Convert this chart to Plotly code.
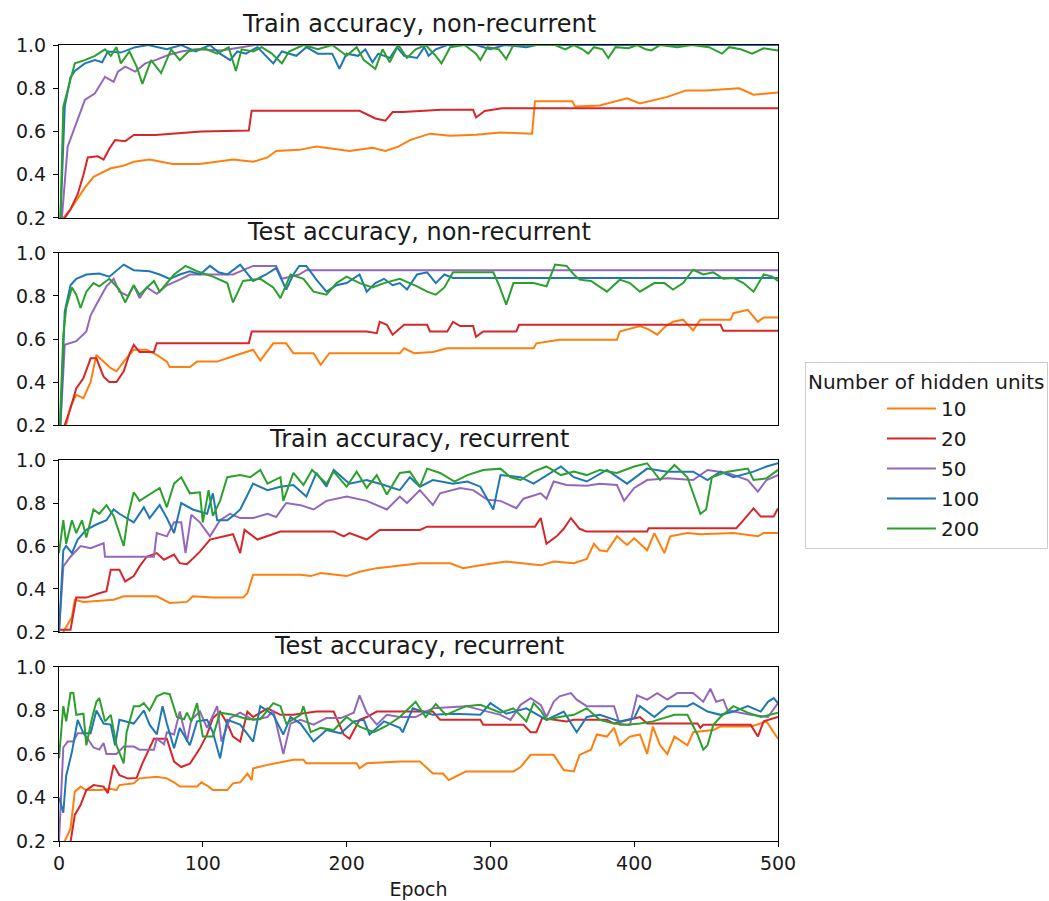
import plotly.graph_objects as go

# ---------------- data (epoch, accuracy) ----------------
units = ["10", "20", "50", "100", "200"]
colors = ["#ff7f0e", "#d62728", "#9467bd", "#1f77b4", "#2ca02c"]
titles = ["Train accuracy, non-recurrent", "Test accuracy, non-recurrent",
          "Train accuracy, recurrent", "Test accuracy, recurrent"]
y_ticks = [0.2, 0.4, 0.6, 0.8, 1.0]
x_ticks = [0, 100, 200, 300, 400, 500]

# Panel 1: train accuracy, non-recurrent
trn_10_ep = [0, 3, 8, 12, 18, 24, 30, 36, 44, 52, 63, 79, 98, 110, 121, 135, 145, 151, 167, 179, 190, 202, 218, 227, 236, 244, 251, 258, 272, 290, 307, 329, 331, 357, 359, 376, 395, 404, 423, 436, 450, 473, 483, 500]
trn_10_acc = [0.1, 0.2, 0.24, 0.28, 0.34, 0.39, 0.41, 0.43, 0.44, 0.46, 0.47, 0.45, 0.45, 0.46, 0.47, 0.46, 0.48, 0.51, 0.515, 0.53, 0.52, 0.51, 0.525, 0.51, 0.53, 0.56, 0.575, 0.59, 0.58, 0.585, 0.595, 0.59, 0.74, 0.74, 0.715, 0.72, 0.753, 0.73, 0.76, 0.79, 0.79, 0.80, 0.77, 0.78]
trn_20_ep = [0, 4, 8, 13, 17, 20, 27, 31, 35, 39, 46, 52, 67, 80, 99, 132, 134, 209, 220, 227, 232, 239, 266, 288, 290, 296, 308, 500]
trn_20_acc = [0.12, 0.2, 0.24, 0.31, 0.40, 0.48, 0.485, 0.47, 0.52, 0.56, 0.555, 0.584, 0.584, 0.59, 0.60, 0.605, 0.696, 0.696, 0.66, 0.65, 0.69, 0.69, 0.70, 0.70, 0.665, 0.695, 0.707, 0.707]
trn_50_ep = [0, 2, 6, 11, 18, 25, 32, 38, 41, 46, 53, 60, 67, 76, 85, 95, 113, 127, 136, 500]
trn_50_acc = [0.1, 0.2, 0.53, 0.62, 0.746, 0.777, 0.853, 0.83, 0.877, 0.90, 0.877, 0.915, 0.93, 0.954, 0.97, 0.98, 0.975, 0.99, 1.0, 1.0]
trn_100_ep = [0, 1, 4, 8, 11, 18, 25, 30, 34, 43, 53, 62, 75, 85, 95, 105, 112, 119, 124, 130, 138, 149, 155, 165, 172, 180, 190, 195, 200, 208, 213, 218, 222, 230, 235, 240, 249, 254, 257, 262, 270, 290, 300, 310, 325, 332, 500]
trn_100_acc = [0.1, 0.2, 0.715, 0.85, 0.88, 0.915, 0.93, 0.92, 0.97, 0.965, 0.99, 1.0, 0.98, 1.0, 0.97, 1.0, 0.96, 0.93, 0.97, 0.96, 0.99, 0.915, 0.97, 0.95, 0.99, 0.96, 0.96, 0.89, 0.96, 0.95, 0.98, 0.92, 0.96, 0.94, 0.99, 0.95, 0.94, 0.99, 0.95, 0.98, 1.0, 1.0, 0.98, 1.0, 0.99, 1.0, 1.0]
trn_200_ep = [0, 1, 3, 5, 8, 11, 18, 25, 32, 36, 40, 43, 49, 54, 58, 64, 71, 78, 84, 90, 101, 110, 118, 123, 127, 135, 141, 148, 155, 160, 170, 180, 190, 200, 207, 212, 220, 225, 230, 236, 242, 248, 255, 262, 266, 272, 282, 290, 293, 298, 306, 311, 316, 345, 352, 358, 364, 368, 372, 378, 382, 387, 396, 402, 408, 412, 418, 430, 440, 452, 458, 461, 466, 474, 482, 490, 500]
trn_200_acc = [0.1, 0.2, 0.715, 0.77, 0.84, 0.915, 0.93, 0.95, 0.98, 0.95, 0.99, 0.915, 0.97, 0.90, 0.82, 0.93, 0.87, 0.98, 0.93, 0.97, 0.985, 0.96, 0.99, 0.88, 0.98, 0.97, 0.99, 0.96, 0.915, 0.97, 1.0, 0.98, 1.0, 0.95, 0.99, 0.93, 0.89, 0.98, 0.92, 1.0, 0.94, 0.98, 1.0, 0.95, 0.915, 0.99, 1.0, 0.96, 0.93, 0.99, 0.98, 0.935, 1.0, 1.0, 0.98, 1.0, 0.98, 0.96, 0.99, 0.98, 0.94, 0.99, 0.985, 1.0, 0.98, 0.975, 1.0, 0.99, 1.0, 0.99, 0.97, 0.96, 0.99, 0.98, 0.96, 0.985, 0.975]

# Panel 2: test accuracy, non-recurrent
ten_10_ep = [0, 5, 8, 12, 17, 22, 26, 31, 36, 40, 45, 52, 61, 68, 75, 77, 91, 96, 110, 121, 135, 140, 149, 158, 163, 177, 182, 188, 237, 240, 247, 260, 270, 288, 330, 332, 348, 388, 390, 404, 410, 416, 422, 427, 434, 441, 446, 467, 469, 479, 486, 490, 500]
ten_10_acc = [0.1, 0.2, 0.285, 0.34, 0.325, 0.40, 0.526, 0.495, 0.464, 0.45, 0.495, 0.55, 0.55, 0.526, 0.495, 0.47, 0.47, 0.495, 0.495, 0.52, 0.55, 0.50, 0.58, 0.58, 0.534, 0.534, 0.48, 0.534, 0.534, 0.557, 0.534, 0.54, 0.557, 0.557, 0.557, 0.58, 0.596, 0.596, 0.635, 0.66, 0.645, 0.62, 0.66, 0.68, 0.69, 0.64, 0.69, 0.69, 0.72, 0.736, 0.68, 0.70, 0.70]
ten_20_ep = [0, 4, 8, 12, 17, 22, 26, 31, 35, 40, 45, 49, 52, 56, 66, 68, 132, 134, 214, 221, 223, 228, 232, 240, 256, 258, 270, 274, 279, 288, 290, 295, 318, 320, 460, 462, 500]
ten_20_acc = [0.1, 0.2, 0.278, 0.37, 0.418, 0.51, 0.51, 0.425, 0.40, 0.40, 0.45, 0.53, 0.573, 0.54, 0.54, 0.58, 0.58, 0.635, 0.635, 0.627, 0.68, 0.666, 0.62, 0.666, 0.666, 0.635, 0.635, 0.68, 0.66, 0.66, 0.61, 0.635, 0.635, 0.666, 0.666, 0.638, 0.638]
ten_50_ep = [0, 1, 4, 12, 19, 22, 26, 33, 38, 42, 48, 52, 56, 61, 68, 75, 84, 91, 121, 128, 135, 151, 155, 167, 172, 500]
ten_50_acc = [0.1, 0.2, 0.573, 0.59, 0.635, 0.71, 0.76, 0.845, 0.88, 0.82, 0.80, 0.85, 0.79, 0.84, 0.81, 0.85, 0.876, 0.90, 0.90, 0.92, 0.94, 0.94, 0.88, 0.90, 0.92, 0.92]
ten_100_ep = [0, 1, 4, 8, 12, 19, 28, 35, 45, 52, 63, 70, 77, 84, 91, 98, 105, 111, 117, 126, 135, 144, 151, 158, 163, 167, 172, 179, 186, 193, 200, 209, 214, 220, 226, 232, 237, 242, 249, 256, 262, 268, 274, 500]
ten_100_acc = [0.1, 0.2, 0.728, 0.85, 0.88, 0.90, 0.905, 0.89, 0.946, 0.92, 0.915, 0.90, 0.88, 0.90, 0.915, 0.90, 0.94, 0.91, 0.90, 0.946, 0.87, 0.90, 0.93, 0.83, 0.90, 0.94, 0.94, 0.876, 0.82, 0.85, 0.86, 0.90, 0.82, 0.86, 0.88, 0.85, 0.86, 0.83, 0.90, 0.91, 0.86, 0.90, 0.884, 0.884]
ten_200_ep = [0, 1, 3, 5, 9, 12, 15, 19, 24, 28, 35, 42, 46, 52, 56, 66, 70, 80, 88, 96, 107, 117, 121, 128, 140, 149, 154, 161, 170, 177, 186, 193, 200, 209, 218, 226, 237, 249, 256, 262, 268, 274, 302, 306, 311, 316, 330, 339, 345, 353, 358, 362, 370, 381, 390, 397, 404, 414, 421, 427, 434, 441, 448, 455, 462, 469, 476, 483, 490, 496, 500]
ten_200_acc = [0.1, 0.3, 0.62, 0.744, 0.84, 0.806, 0.744, 0.82, 0.86, 0.845, 0.88, 0.83, 0.77, 0.85, 0.806, 0.87, 0.82, 0.90, 0.94, 0.915, 0.89, 0.86, 0.77, 0.87, 0.88, 0.84, 0.79, 0.90, 0.88, 0.82, 0.806, 0.86, 0.89, 0.86, 0.84, 0.86, 0.88, 0.845, 0.82, 0.806, 0.84, 0.91, 0.91, 0.85, 0.76, 0.86, 0.86, 0.845, 0.946, 0.94, 0.90, 0.876, 0.87, 0.82, 0.876, 0.86, 0.82, 0.86, 0.86, 0.83, 0.86, 0.922, 0.90, 0.91, 0.88, 0.884, 0.86, 0.82, 0.90, 0.89, 0.87]

# Panel 3: train accuracy, recurrent
trr_10_ep = [0, 3, 9, 11, 17, 38, 45, 68, 77, 89, 93, 107, 128, 131, 135, 168, 175, 182, 200, 209, 221, 237, 251, 272, 281, 293, 311, 335, 344, 358, 367, 372, 376, 381, 388, 395, 400, 409, 414, 421, 425, 437, 446, 469, 486, 490, 500]
trr_10_acc = [0.15, 0.2, 0.27, 0.35, 0.34, 0.35, 0.366, 0.366, 0.335, 0.34, 0.366, 0.36, 0.36, 0.38, 0.466, 0.466, 0.46, 0.474, 0.46, 0.48, 0.497, 0.51, 0.52, 0.52, 0.497, 0.51, 0.528, 0.51, 0.528, 0.52, 0.54, 0.61, 0.58, 0.575, 0.645, 0.605, 0.636, 0.58, 0.66, 0.567, 0.645, 0.66, 0.655, 0.66, 0.645, 0.66, 0.66]
trr_20_ep = [0, 8, 12, 19, 28, 33, 36, 42, 46, 52, 56, 61, 68, 73, 80, 84, 89, 98, 105, 117, 121, 126, 129, 138, 145, 154, 191, 198, 202, 214, 223, 251, 256, 331, 335, 339, 346, 351, 356, 362, 367, 409, 410, 471, 476, 483, 488, 497, 500]
trr_20_acc = [0.21, 0.21, 0.36, 0.36, 0.38, 0.39, 0.49, 0.49, 0.435, 0.46, 0.505, 0.55, 0.567, 0.536, 0.56, 0.52, 0.515, 0.574, 0.63, 0.65, 0.655, 0.567, 0.675, 0.63, 0.645, 0.667, 0.667, 0.645, 0.66, 0.63, 0.675, 0.675, 0.69, 0.69, 0.73, 0.61, 0.645, 0.68, 0.73, 0.68, 0.667, 0.667, 0.683, 0.683, 0.72, 0.775, 0.737, 0.737, 0.775]
trr_50_ep = [0, 3, 8, 15, 22, 31, 32, 66, 68, 75, 80, 85, 88, 92, 98, 105, 112, 119, 126, 135, 145, 151, 158, 168, 177, 186, 200, 214, 228, 237, 242, 251, 260, 265, 279, 288, 298, 307, 318, 323, 335, 339, 344, 353, 367, 376, 388, 393, 400, 409, 423, 441, 451, 465, 479, 486, 492, 500]
trr_50_acc = [0.2, 0.505, 0.55, 0.60, 0.59, 0.613, 0.55, 0.55, 0.66, 0.645, 0.71, 0.71, 0.567, 0.745, 0.71, 0.645, 0.72, 0.75, 0.73, 0.73, 0.75, 0.735, 0.80, 0.79, 0.77, 0.81, 0.83, 0.81, 0.77, 0.83, 0.80, 0.86, 0.79, 0.845, 0.87, 0.86, 0.815, 0.81, 0.776, 0.82, 0.845, 0.82, 0.90, 0.884, 0.88, 0.89, 0.884, 0.81, 0.87, 0.907, 0.915, 0.907, 0.954, 0.94, 0.907, 0.853, 0.907, 0.93]
trr_100_ep = [0, 3, 5, 9, 13, 19, 26, 33, 38, 42, 52, 59, 63, 70, 75, 80, 85, 93, 103, 107, 110, 117, 121, 126, 135, 145, 154, 163, 172, 179, 186, 191, 202, 214, 226, 237, 244, 251, 260, 274, 284, 293, 302, 307, 321, 330, 349, 358, 367, 381, 395, 409, 423, 441, 451, 460, 469, 483, 492, 500]
trr_100_acc = [0.2, 0.58, 0.60, 0.567, 0.63, 0.675, 0.70, 0.72, 0.77, 0.75, 0.71, 0.78, 0.73, 0.79, 0.73, 0.66, 0.80, 0.77, 0.75, 0.845, 0.72, 0.72, 0.74, 0.77, 0.89, 0.86, 0.876, 0.884, 0.83, 0.94, 0.876, 0.954, 0.89, 0.907, 0.884, 0.86, 0.92, 0.876, 0.907, 0.89, 0.90, 0.876, 0.77, 0.93, 0.92, 0.89, 0.97, 0.92, 0.90, 0.954, 0.89, 0.96, 0.946, 0.946, 0.907, 0.946, 0.92, 0.946, 0.97, 0.985]
trr_200_ep = [0, 3, 5, 9, 12, 16, 19, 24, 28, 33, 38, 45, 48, 52, 56, 63, 70, 75, 80, 85, 91, 98, 100, 104, 107, 112, 117, 126, 133, 140, 145, 154, 156, 163, 170, 176, 186, 191, 200, 207, 214, 221, 228, 237, 244, 251, 256, 265, 275, 284, 295, 307, 314, 321, 330, 339, 349, 358, 367, 376, 388, 400, 409, 418, 428, 437, 441, 446, 450, 454, 465, 479, 483, 492, 500]
trr_200_acc = [0.567, 0.72, 0.61, 0.72, 0.66, 0.72, 0.64, 0.77, 0.75, 0.79, 0.74, 0.60, 0.74, 0.85, 0.81, 0.84, 0.87, 0.78, 0.89, 0.92, 0.845, 0.85, 0.71, 0.86, 0.74, 0.81, 0.92, 0.93, 0.92, 0.954, 0.89, 0.92, 0.81, 0.94, 0.884, 0.954, 0.89, 0.946, 0.876, 0.946, 0.87, 0.93, 0.84, 0.94, 0.946, 0.876, 0.96, 0.94, 0.90, 0.93, 0.954, 0.96, 0.92, 0.907, 0.946, 0.97, 0.93, 0.946, 0.93, 0.954, 0.94, 0.97, 0.985, 0.907, 0.977, 0.92, 0.845, 0.75, 0.77, 0.92, 0.946, 0.96, 0.907, 0.915, 0.954]

# Panel 4: test accuracy, recurrent
ter_10_ep = [0, 4, 8, 11, 15, 19, 29, 36, 40, 42, 52, 56, 68, 75, 80, 84, 96, 99, 104, 107, 117, 121, 126, 131, 134, 135, 145, 163, 170, 172, 207, 209, 214, 237, 251, 255, 260, 267, 271, 277, 283, 316, 321, 328, 344, 351, 358, 362, 370, 374, 381, 386, 390, 397, 404, 409, 413, 418, 423, 428, 437, 441, 455, 460, 479, 483, 492, 500]
ter_10_acc = [0.1, 0.2, 0.257, 0.427, 0.45, 0.434, 0.434, 0.44, 0.434, 0.457, 0.465, 0.488, 0.495, 0.488, 0.47, 0.45, 0.45, 0.47, 0.45, 0.434, 0.434, 0.465, 0.47, 0.51, 0.48, 0.534, 0.55, 0.573, 0.573, 0.557, 0.557, 0.534, 0.557, 0.565, 0.565, 0.54, 0.51, 0.51, 0.48, 0.50, 0.52, 0.52, 0.54, 0.596, 0.596, 0.526, 0.52, 0.596, 0.62, 0.69, 0.68, 0.72, 0.64, 0.68, 0.69, 0.60, 0.726, 0.64, 0.60, 0.68, 0.64, 0.70, 0.71, 0.726, 0.726, 0.73, 0.75, 0.67]
ter_20_ep = [0, 8, 11, 15, 19, 24, 31, 34, 38, 42, 48, 54, 58, 61, 66, 75, 80, 85, 91, 98, 103, 107, 112, 117, 121, 126, 131, 135, 145, 154, 163, 179, 191, 198, 202, 209, 214, 221, 260, 265, 293, 295, 323, 328, 332, 336, 353, 358, 381, 386, 404, 409, 444, 446, 448, 481, 486, 490, 500]
ter_20_acc = [0.0, 0.195, 0.32, 0.365, 0.434, 0.457, 0.45, 0.42, 0.55, 0.503, 0.487, 0.49, 0.557, 0.60, 0.67, 0.67, 0.565, 0.54, 0.555, 0.626, 0.69, 0.765, 0.795, 0.74, 0.68, 0.657, 0.795, 0.77, 0.81, 0.78, 0.78, 0.795, 0.795, 0.69, 0.67, 0.757, 0.77, 0.795, 0.795, 0.757, 0.757, 0.734, 0.734, 0.70, 0.70, 0.765, 0.75, 0.757, 0.757, 0.74, 0.77, 0.74, 0.74, 0.72, 0.734, 0.734, 0.68, 0.75, 0.77]
ter_50_ep = [0, 3, 6, 10, 13, 17, 20, 24, 28, 31, 33, 40, 45, 52, 56, 66, 68, 73, 75, 80, 84, 89, 92, 98, 103, 110, 113, 119, 126, 135, 145, 149, 156, 161, 168, 177, 186, 196, 205, 209, 214, 221, 228, 237, 248, 260, 283, 307, 314, 321, 328, 335, 339, 344, 348, 356, 360, 367, 386, 390, 397, 402, 409, 416, 423, 430, 441, 448, 453, 457, 462, 465, 481, 493, 500]
ter_50_acc = [0.2, 0.63, 0.657, 0.657, 0.695, 0.695, 0.67, 0.63, 0.62, 0.65, 0.60, 0.60, 0.634, 0.634, 0.62, 0.62, 0.67, 0.645, 0.70, 0.69, 0.795, 0.657, 0.757, 0.795, 0.72, 0.82, 0.657, 0.765, 0.79, 0.757, 0.77, 0.80, 0.60, 0.74, 0.757, 0.735, 0.765, 0.765, 0.79, 0.87, 0.79, 0.735, 0.78, 0.77, 0.77, 0.81, 0.82, 0.78, 0.757, 0.826, 0.857, 0.826, 0.77, 0.84, 0.865, 0.88, 0.85, 0.82, 0.82, 0.734, 0.734, 0.87, 0.85, 0.88, 0.85, 0.88, 0.88, 0.84, 0.90, 0.84, 0.85, 0.80, 0.78, 0.77, 0.834]
ter_100_ep = [0, 3, 5, 9, 13, 17, 22, 26, 31, 36, 39, 42, 52, 59, 63, 68, 72, 75, 80, 84, 91, 96, 103, 107, 112, 117, 126, 135, 140, 149, 156, 161, 168, 177, 186, 196, 205, 212, 216, 226, 237, 239, 246, 260, 274, 293, 300, 311, 325, 339, 351, 360, 367, 376, 390, 400, 404, 414, 423, 437, 441, 451, 460, 469, 479, 488, 493, 497, 500]
ter_100_acc = [0.40, 0.33, 0.50, 0.61, 0.757, 0.695, 0.695, 0.80, 0.74, 0.735, 0.64, 0.757, 0.74, 0.80, 0.735, 0.69, 0.82, 0.74, 0.626, 0.72, 0.64, 0.75, 0.757, 0.70, 0.58, 0.757, 0.735, 0.657, 0.82, 0.78, 0.69, 0.77, 0.74, 0.657, 0.71, 0.695, 0.75, 0.757, 0.69, 0.75, 0.72, 0.70, 0.81, 0.78, 0.785, 0.78, 0.834, 0.785, 0.81, 0.757, 0.795, 0.70, 0.77, 0.78, 0.75, 0.765, 0.82, 0.77, 0.82, 0.82, 0.834, 0.795, 0.78, 0.795, 0.82, 0.795, 0.84, 0.857, 0.834]
ter_200_ep = [0, 3, 5, 8, 10, 12, 17, 19, 23, 26, 28, 32, 36, 40, 45, 47, 52, 56, 59, 63, 68, 73, 77, 82, 87, 89, 92, 96, 100, 107, 112, 121, 131, 140, 149, 154, 158, 168, 170, 175, 182, 191, 200, 209, 219, 228, 237, 248, 255, 262, 269, 283, 293, 307, 316, 325, 330, 335, 339, 348, 358, 367, 376, 386, 395, 404, 413, 428, 437, 444, 448, 451, 455, 460, 469, 479, 488, 500]
ter_200_acc = [0.58, 0.82, 0.75, 0.88, 0.88, 0.78, 0.785, 0.64, 0.765, 0.84, 0.857, 0.75, 0.78, 0.64, 0.557, 0.70, 0.82, 0.82, 0.834, 0.80, 0.865, 0.88, 0.875, 0.77, 0.76, 0.79, 0.75, 0.834, 0.68, 0.68, 0.79, 0.78, 0.76, 0.76, 0.834, 0.82, 0.74, 0.78, 0.82, 0.70, 0.72, 0.71, 0.77, 0.726, 0.70, 0.73, 0.77, 0.84, 0.77, 0.83, 0.78, 0.82, 0.826, 0.79, 0.81, 0.75, 0.834, 0.80, 0.757, 0.77, 0.78, 0.81, 0.757, 0.74, 0.734, 0.74, 0.75, 0.78, 0.78, 0.69, 0.62, 0.64, 0.734, 0.77, 0.82, 0.79, 0.77, 0.79]

panels = [
    [(trn_10_ep, trn_10_acc), (trn_20_ep, trn_20_acc), (trn_50_ep, trn_50_acc), (trn_100_ep, trn_100_acc), (trn_200_ep, trn_200_acc)],
    [(ten_10_ep, ten_10_acc), (ten_20_ep, ten_20_acc), (ten_50_ep, ten_50_acc), (ten_100_ep, ten_100_acc), (ten_200_ep, ten_200_acc)],
    [(trr_10_ep, trr_10_acc), (trr_20_ep, trr_20_acc), (trr_50_ep, trr_50_acc), (trr_100_ep, trr_100_acc), (trr_200_ep, trr_200_acc)],
    [(ter_10_ep, ter_10_acc), (ter_20_ep, ter_20_acc), (ter_50_ep, ter_50_acc), (ter_100_ep, ter_100_acc), (ter_200_ep, ter_200_acc)],
]

# ---------------- figure ----------------
FONT = "DejaVu Sans"
TXT = "#1a1a1a"
W, H = 1049, 901
ML, MR, MT, MB = 59, 271, 45, 60
# panel y-domains (bottom-up), derived from the reference layout
domains = [(0.7827, 1.0), (0.5226, 0.7387), (0.2626, 0.4786), (0.0, 0.2186)]

fig = go.Figure()
for p, series in enumerate(panels):
    ax = "" if p == 0 else str(p + 1)
    for s, (ep, acc) in enumerate(series):
        fig.add_trace(go.Scatter(
            x=ep, y=acc, mode="lines", name=units[s],
            line=dict(color=colors[s], width=2),
            xaxis="x" + ax, yaxis="y" + ax,
            legendgroup=units[s], showlegend=(p == 0),
            hoverinfo="skip",
        ))

axis_common = dict(showline=True, linecolor="black", linewidth=1, mirror=True,
                   showgrid=False, zeroline=False, ticks="outside", ticklen=5,
                   tickcolor="black", tickfont=dict(family=FONT, size=19, color=TXT))
layout = dict(
    width=W, height=H, paper_bgcolor="white", plot_bgcolor="white",
    margin=dict(l=ML, r=MR, t=MT, b=MB, autoexpand=False),
    font=dict(family=FONT, size=19, color=TXT),
    showlegend=True,
    legend=dict(
        x=1.0375, y=0.6018, xanchor="left", yanchor="top",
        bordercolor="#cccccc", borderwidth=1, bgcolor="white",
        title=dict(text="Number of hidden units", font=dict(family=FONT, size=20, color=TXT)),
        font=dict(family=FONT, size=20, color=TXT),
        traceorder="grouped", tracegroupgap=1, indentation=76, itemwidth=49,
    ),
    annotations=[],
)
for p in range(4):
    ax = "" if p == 0 else str(p + 1)
    xa = dict(axis_common, range=[0, 500], tickvals=x_ticks, domain=[0, 1],
              anchor="y" + ax)
    if p < 3:
        xa.update(showticklabels=False, ticks="")
    else:
        xa.update(title=dict(text="Epoch", font=dict(family=FONT, size=19, color=TXT), standoff=9))
    ya = dict(axis_common, range=[0.2, 1.0], tickvals=y_ticks, tickformat=".1f",
              domain=list(domains[p]), anchor="x" + ax, ticklabelstandoff=3)
    layout["xaxis" + ax] = xa
    layout["yaxis" + ax] = ya
    layout["annotations"].append(dict(
        text=titles[p], x=0.5, y=domains[p][1], xref="paper", yref="paper",
        xanchor="center", yanchor="bottom", yshift=5, showarrow=False,
        font=dict(family=FONT, size=24, color=TXT)))

fig.update_layout(layout)
fig.write_html("out.html")
